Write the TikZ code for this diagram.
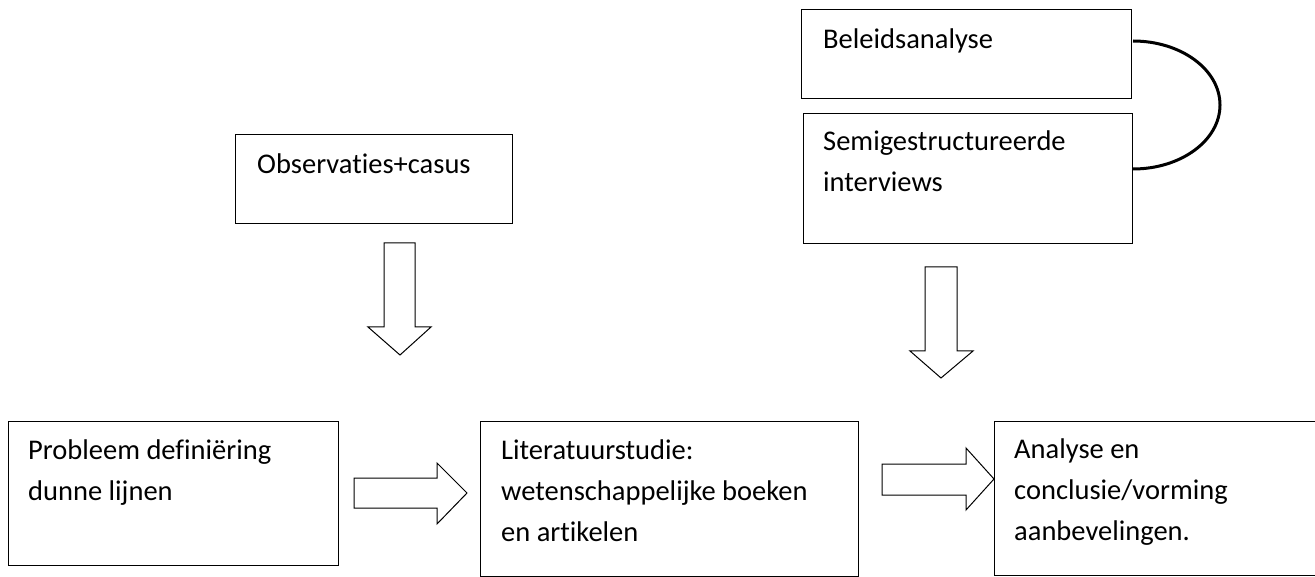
\documentclass[tikz,border=0pt]{standalone}
\usepackage{fontspec}
\setmainfont{Carlito}[Ligatures=NoCommon]
\begin{document}
\begin{tikzpicture}[x=1pt,y=-1pt,
  box/.style={draw, line width=1.2pt, inner sep=0pt, anchor=north west},
  % base of a multi-line node is the baseline of its last line
  txt/.style={anchor=base west, align=left, inner sep=0pt,
              font=\fontsize{28.5}{41}\selectfont},
  blockarrow/.style={draw, line width=1pt, line join=miter, fill=white},
  link/.style={line width=3pt}]
\clip (0,0) rectangle (1315,577);

% boxes
\node[box, minimum width=277pt, minimum height=89pt]  (obs)    at (235,134) {};
\node[box, minimum width=330pt, minimum height=89pt]  (beleid) at (801,9)   {};
\node[box, minimum width=329pt, minimum height=130pt] (semi)   at (803,113) {};
\node[box, minimum width=330pt, minimum height=144pt] (prob)   at (8,421)   {};
\node[box, minimum width=378pt, minimum height=155pt] (lit)    at (480,421) {};
\node[box, minimum width=340pt, minimum height=154pt] (ana)    at (994,421) {};

% box texts
\node[txt] (obstxt)    at (257,174) {Observaties+casus};
\node[txt] (beleidtxt) at (823,49)  {Beleidsanalyse};
\node[txt] (semitxt)   at (823,192) {Semigestructureerde\\interviews};
\node[txt] (probtxt)   at (28,500)  {Probleem definiëring\\dunne lijnen};
\node[txt] (littxt)    at (501,541) {Literatuurstudie:\\wetenschappelijke boeken\\en artikelen};
\node[txt] (anatxt)    at (1014,540){Analyse en\\conclusie/vorming\\aanbevelingen.};

% bracket joining the two method boxes
\coordinate (ctop) at (1133,41);
\draw[link] (ctop) arc[start angle=90, end angle=-90, x radius=87pt, y radius=64pt] coordinate (cbot);

% block arrows
\draw[blockarrow] (384,243) -- (415,243) -- (415,327) -- (431,327) -- (400,355)
  -- (368,327) -- (384,327) -- cycle;
\draw[blockarrow] (925,267) -- (957,267) -- (957,351) -- (973,351) -- (941,378)
  -- (910,351) -- (925,351) -- cycle;
\draw[blockarrow] (354,478) -- (437,478) -- (437,463) -- (467,493) -- (437,524)
  -- (437,508) -- (354,508) -- cycle;
\draw[blockarrow] (882,464) -- (966,464) -- (966,448) -- (994,479) -- (966,510)
  -- (966,495) -- (882,495) -- cycle;
\end{tikzpicture}
\end{document}
